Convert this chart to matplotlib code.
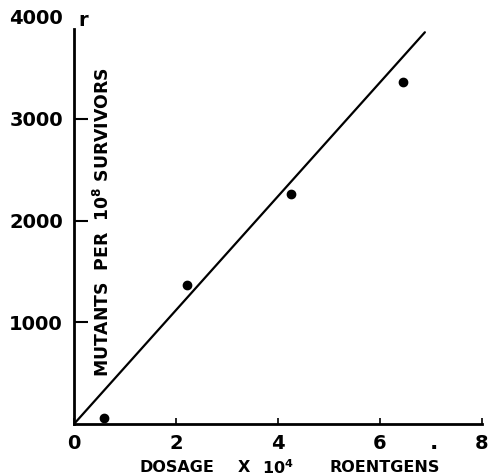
import matplotlib
matplotlib.use("Agg")
import matplotlib.pyplot as plt

# Data
dose = [0.59, 2.22, 4.25, 6.46]         # x 10^4 roentgens
mutants = [56, 1366, 2260, 3358]        # mutants per 10^8 survivors
fit_x = [0.0, 6.88]
fit_y = [0.0, 3850.0]

x_ticks = [0, 2, 4, 6, 8]
x_labels = ["0", "2", "4", "6", "8"]
y_ticks = [1000, 2000, 3000, 4000]
y_labels = ["1000", "2000", "3000", "4000"]

FONT = "DejaVu Sans"

fig = plt.figure(figsize=(4.89, 4.76), dpi=100)
ax = fig.add_axes([74/489, 1-424/476, 408/489, 407/476])

ax.plot(fit_x, fit_y, color="black", lw=1.6, solid_capstyle="round")
ax.plot(dose, mutants, "o", color="black", ms=6, clip_on=False)

ax.set_xlim(0, 8)
ax.set_ylim(0, 4000)

for s in ["top", "right"]:
    ax.spines[s].set_visible(False)
ax.spines["left"].set_linewidth(2)
ax.spines["bottom"].set_linewidth(2)
ax.spines["left"].set_bounds(0, 3880)

ax.set_xticks(x_ticks)
ax.set_xticklabels(x_labels, fontsize=14, fontweight="bold", family=FONT)
ax.set_yticks(y_ticks)
ax.set_yticklabels(y_labels, fontsize=14, fontweight="bold", family=FONT)
ax.tick_params(axis="x", direction="in", length=4, width=1.2, pad=7)
ax.tick_params(axis="y", direction="in", length=10, width=1.5, pad=8)
ax.yaxis.get_major_ticks()[-1].tick1line.set_visible(False)

ax.text(0.08, 3970, "r", fontsize=14, fontweight="bold", family=FONT,
        ha="left", va="center")
ax.text(7.05, -90, ".", fontsize=16, fontweight="bold", family=FONT,
        ha="center", va="top")

ax.text(0.57, 1980, "MUTANTS  PER  10$^{\\mathbf{8}}$ SURVIVORS", rotation=90,
        fontsize=12.4, fontweight="bold", family=FONT, ha="center", va="center")

# x-axis title pieces (widely spaced in the original)
y_xl = 1 - 468/476
fig.text(177/489, y_xl, "DOSAGE", fontsize=11.5, fontweight="bold", family=FONT,
         ha="center", va="center")
fig.text(244/489, y_xl, "X", fontsize=11.5, fontweight="bold", family=FONT,
         ha="center", va="center")
fig.text(278/489, y_xl, "10$^{\\mathbf{4}}$", fontsize=11.5, fontweight="bold",
         family=FONT, ha="center", va="center")
fig.text(385/489, y_xl, "ROENTGENS", fontsize=11.5, fontweight="bold", family=FONT,
         ha="center", va="center")

fig.savefig("out.png", dpi=100)
